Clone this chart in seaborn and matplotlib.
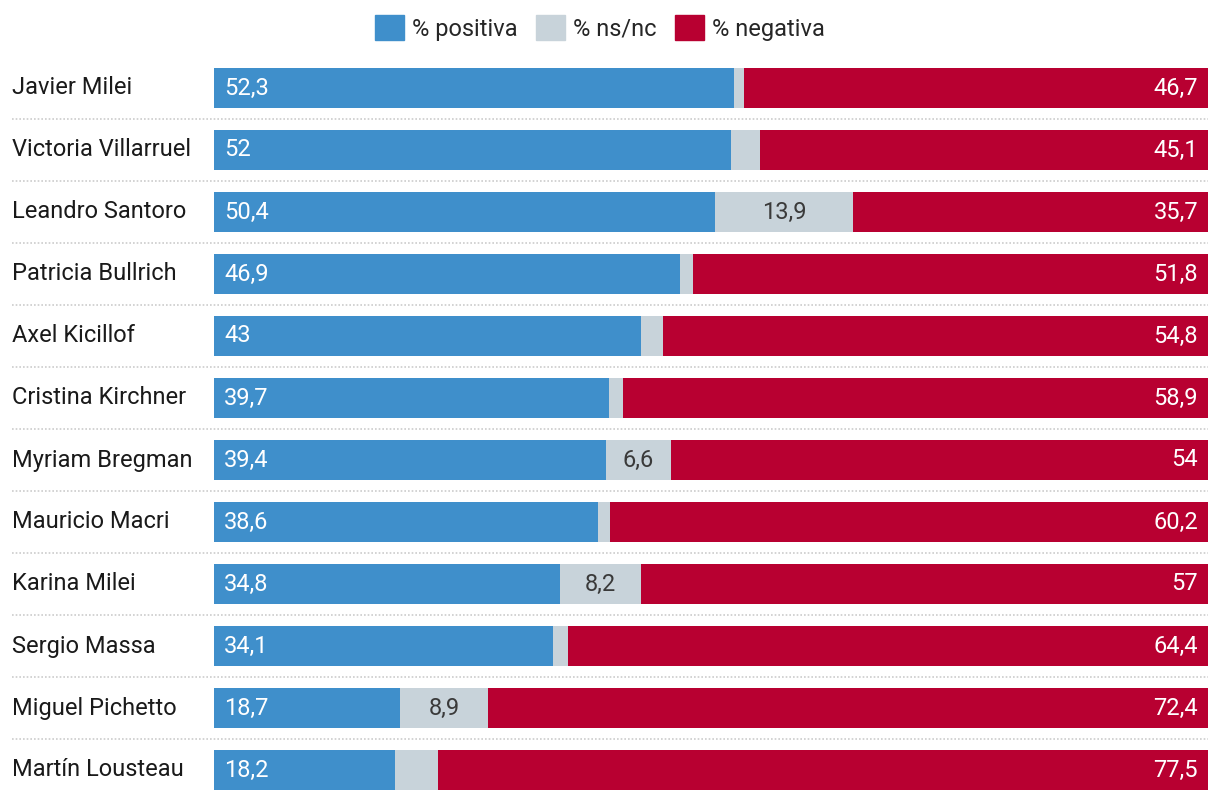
import matplotlib
matplotlib.use("Agg")
import matplotlib.pyplot as plt
import matplotlib.transforms as mtransforms
from matplotlib.patches import Patch
import numpy as np
import pandas as pd
import seaborn as sns

# Datos de imagen de dirigentes
nombres = ["Javier Milei", "Victoria Villarruel", "Leandro Santoro", "Patricia Bullrich",
           "Axel Kicillof", "Cristina Kirchner", "Myriam Bregman", "Mauricio Macri",
           "Karina Milei", "Sergio Massa", "Miguel Pichetto", "Martín Lousteau"]
positiva = [52.3, 52.0, 50.4, 46.9, 43.0, 39.7, 39.4, 38.6, 34.8, 34.1, 18.7, 18.2]
nsnc = [1.0, 2.9, 13.9, 1.3, 2.2, 1.4, 6.6, 1.2, 8.2, 1.5, 8.9, 4.3]
negativa = [46.7, 45.1, 35.7, 51.8, 54.8, 58.9, 54.0, 60.2, 57.0, 64.4, 72.4, 77.5]

col_pos = "#3f8fcb"
col_ns = "#c8d3da"
col_neg = "#b80031"

df = pd.DataFrame({"nombre": nombres, "positiva": positiva, "nsnc": nsnc, "negativa": negativa})
df["hasta_ns"] = df["positiva"] + df["nsnc"]
df["total"] = df["hasta_ns"] + df["negativa"]

sns.set_theme(style="white")
plt.rcParams["font.family"] = ["Roboto", "DejaVu Sans"]

fig = plt.figure(figsize=(12.2, 8.02), dpi=100)
ax = fig.add_axes([214 / 1220, 1 - 801 / 802, 994 / 1220, 744 / 802])

ancho = 40 / 62
# barras apiladas: total, luego hasta ns/nc, luego positiva
for col, color in [("total", col_neg), ("hasta_ns", col_ns), ("positiva", col_pos)]:
    sns.barplot(data=df, x=col, y="nombre", color=color, width=ancho, saturation=1,
                linewidth=0, ax=ax)

ax.set_xlim(0, 100)
ax.set_ylim(len(nombres) - 0.5, -0.5)
ax.set_xlabel("")
ax.set_ylabel("")
ax.set_xticks([])
ax.set_yticks([])
for s in ax.spines.values():
    s.set_visible(False)

trans = mtransforms.blended_transform_factory(ax.transAxes, ax.transData)
x_nombre = (12 - 214) / 994

def fmt(v):
    return f"{v:g}".replace(".", ",")

fs = 17
for i, row in df.iterrows():
    ax.text(x_nombre, i, row["nombre"], transform=trans, ha="left", va="center",
            fontsize=fs, color="#1a1a1a")
    ax.text(1.0, i, fmt(row["positiva"]), ha="left", va="center",
            fontsize=fs, color="white")
    ax.text(row["total"] - 1.0, i, fmt(row["negativa"]), ha="right", va="center",
            fontsize=fs, color="white")
    if row["nsnc"] >= 5:
        ax.text(row["positiva"] + row["nsnc"] / 2, i, fmt(row["nsnc"]), ha="center",
                va="center", fontsize=fs, color="#3a3a3a")
    if i < len(df) - 1:
        ax.plot([x_nombre, 1.0], [i + 0.5, i + 0.5], transform=trans, color="#cccccc",
                linestyle=(0, (1, 1.2)), linewidth=1.2, clip_on=False)

handles = [Patch(color=col_pos, label="% positiva"),
           Patch(color=col_ns, label="% ns/nc"),
           Patch(color=col_neg, label="% negativa")]
fig.legend(handles=handles, loc="center", bbox_to_anchor=(600 / 1220, 1 - 28 / 802),
           ncol=3, frameon=False, fontsize=fs, handlelength=1.2, handleheight=1.2,
           handletextpad=0.35, columnspacing=0.8, borderpad=0)

fig.savefig("out.png", dpi=100)
